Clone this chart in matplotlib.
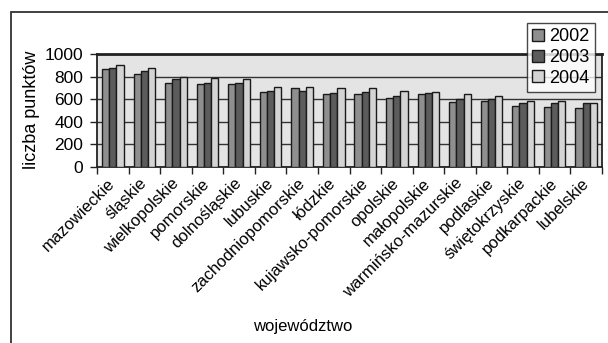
import matplotlib
matplotlib.use("Agg")
import matplotlib.pyplot as plt
from matplotlib.patches import Rectangle, Patch
import numpy as np

plt.rcParams['font.family'] = ['Liberation Sans', 'DejaVu Sans']

regions = ["mazowieckie", "śląskie", "wielkopolskie", "pomorskie", "dolnośląskie",
           "lubuskie", "zachodniopomorskie", "łódzkie", "kujawsko-pomorskie", "opolskie",
           "małopolskie", "warmińsko-mazurskie", "podlaskie", "świętokrzyskie",
           "podkarpackie", "lubelskie"]
years = ["2002", "2003", "2004"]
pts_2002 = [867, 823, 745, 735, 735, 667, 702, 643, 643, 614, 643, 578, 587, 543, 531, 522]
pts_2003 = [879, 847, 779, 746, 746, 675, 675, 655, 664, 631, 652, 599, 599, 563, 563, 563]
pts_2004 = [903, 879, 800, 790, 779, 708, 708, 699, 696, 675, 667, 643, 631, 584, 587, 563]
y_ticks = [0, 200, 400, 600, 800, 1000]

series = [pts_2002, pts_2003, pts_2004]
colors = ["#8f8f8f", "#5c5c5c", "#d4d4d4"]

W, H = 608, 343
fig = plt.figure(figsize=(W / 100, H / 100), dpi=100)
fig.patch.set_facecolor("white")

# outer chart frame (open at right and bottom)
fig.add_artist(Rectangle((11 / W, -0.05), 1.2, 1 - 12 / H + 0.05,
                         transform=fig.transFigure, fill=False,
                         edgecolor="#333333", linewidth=1.3))

ax = fig.add_axes([97 / W, 1 - 167 / H, (602 - 97) / W, (167 - 54) / H])
ax.set_facecolor("#e4e4e4")

n = len(regions)
centers = np.arange(n) + 0.5
bw = 0.228
for k, (vals, col) in enumerate(zip(series, colors)):
    ax.bar(centers + (k - 1) * bw, vals, width=bw, color=col,
           edgecolor="#1a1a1a", linewidth=1.0, zorder=3, label=years[k])

ax.set_xlim(0, n)
ax.set_ylim(0, 1000)
ax.set_yticks(y_ticks)
ax.set_yticklabels([str(v) for v in y_ticks], fontsize=12.5)
ax.yaxis.grid(True, color="#333333", linewidth=1.0, zorder=1)
ax.set_axisbelow(True)

ax.set_xticks(np.arange(n + 1))
ax.set_xticklabels([])
ax.set_xticks(centers, minor=True)
ax.set_xticklabels(regions, minor=True, rotation=45, ha="right", va="center",
                   rotation_mode="anchor", fontsize=12)
ax.tick_params(axis="x", which="minor", length=0, pad=10)
ax.tick_params(axis="x", which="major", length=5, width=1.0, color="#222222")
ax.tick_params(axis="y", length=5, width=1.0, color="#222222", pad=5)

for side, sp in ax.spines.items():
    sp.set_color("#222222")
    sp.set_linewidth(1.3)
ax.spines["top"].set_linewidth(2.0)

fig.text(32 / W, 1 - 110 / H, "liczba punktów", rotation=90, ha="center",
         va="center", fontsize=13)
fig.text(303 / W, 1 - 327 / H, "województwo", ha="center", va="center",
         fontsize=12)

handles = [Patch(facecolor=c, edgecolor="#1a1a1a", linewidth=1.0) for c in colors]
leg = fig.legend(handles, years, loc="upper right",
                 bbox_to_anchor=(595 / W, 1 - 23 / H), fontsize=13,
                 frameon=True, fancybox=False, handlelength=0.65,
                 handleheight=0.65, handletextpad=0.3, labelspacing=0.2,
                 borderpad=0.3, borderaxespad=0)
leg.get_frame().set_edgecolor("#1a1a1a")
leg.get_frame().set_linewidth(1.0)
leg.get_frame().set_facecolor("white")

fig.savefig("out.png", dpi=100)
